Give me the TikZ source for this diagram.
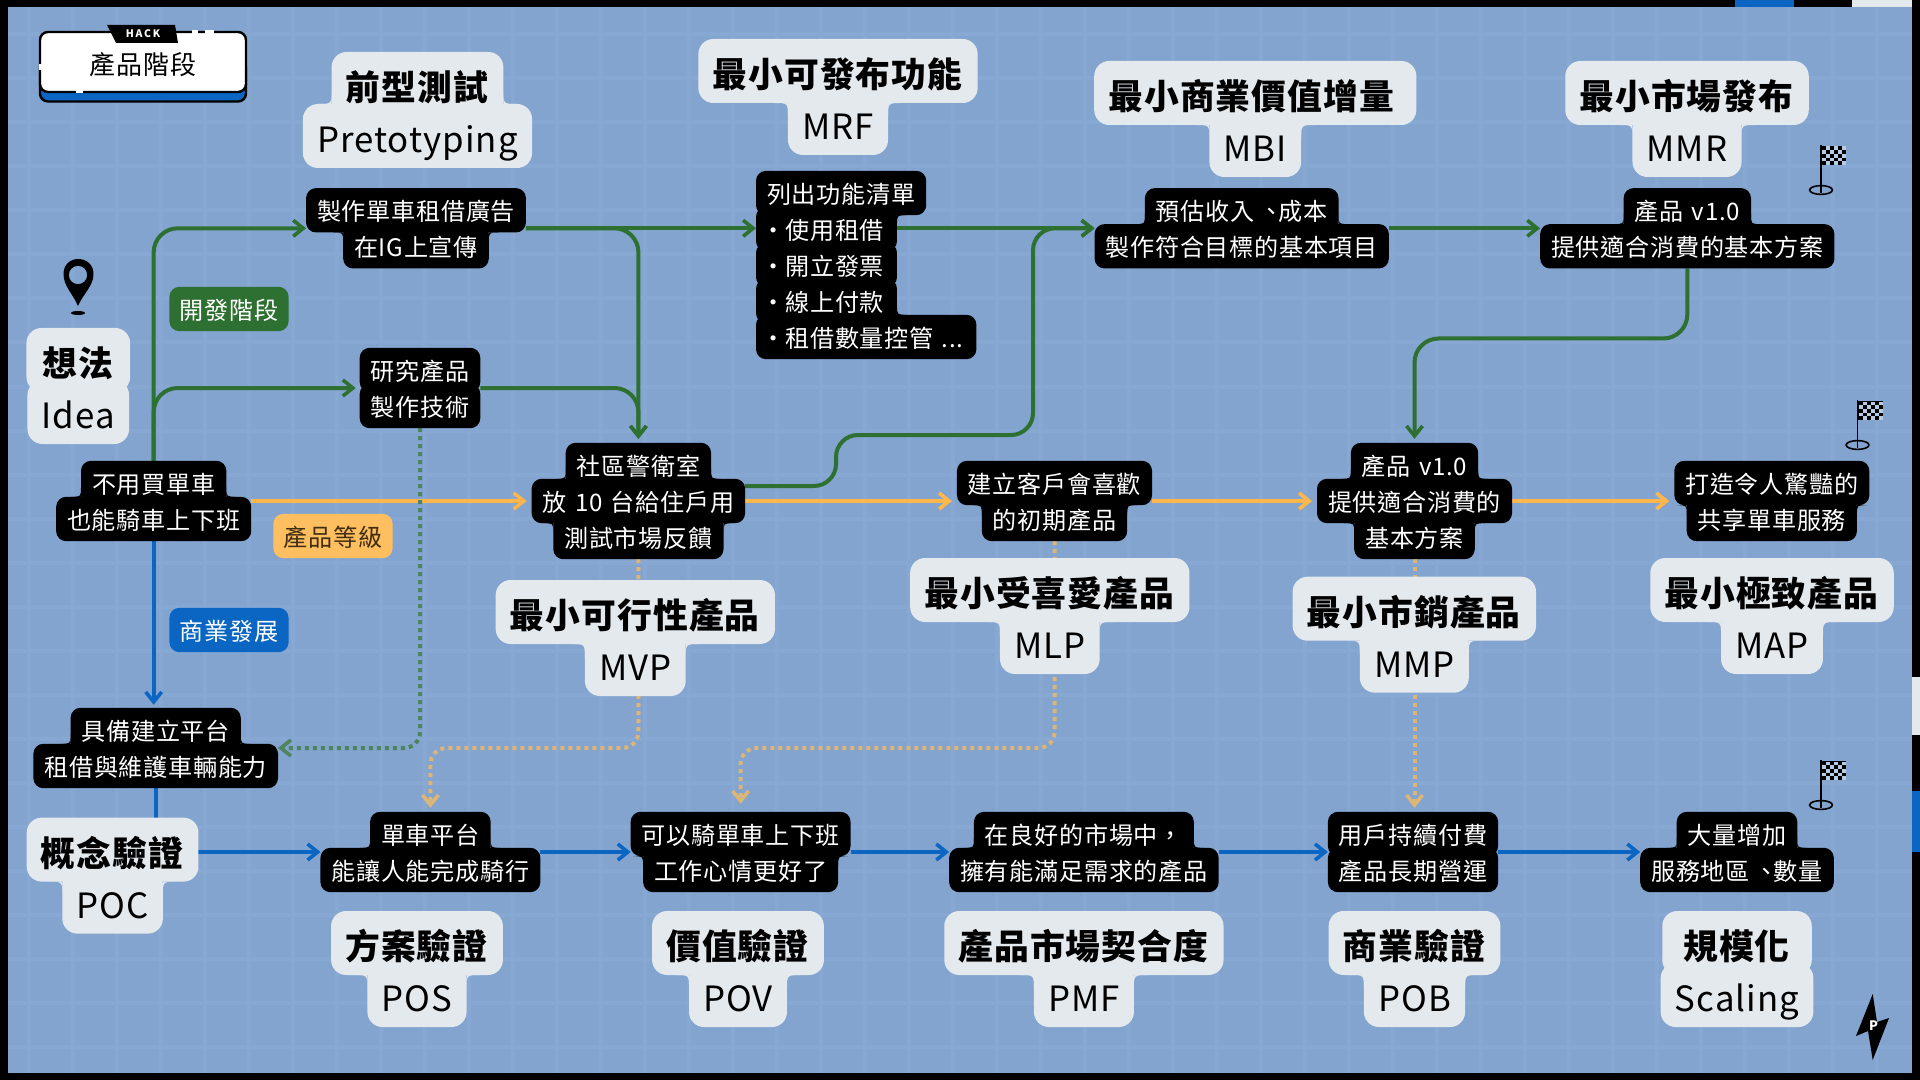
\documentclass[tikz,border=0pt]{standalone}
\usepackage{fontspec}
\setmainfont[LetterSpace=3,WordSpace=1.35]{Noto Sans CJK TC}
\usetikzlibrary{arrows.meta,fit}
\pgfdeclarelayer{paper}
\pgfdeclarelayer{wires}
\pgfsetlayers{paper,wires,main}

\definecolor{paperblue}{HTML}{82A4CE}
\definecolor{gridblue}{HTML}{87A8D2}
\definecolor{taggrey}{HTML}{E4E9EE}
\definecolor{devgreen}{HTML}{2E7031}
\definecolor{bizblue}{HTML}{0A66C2}
\definecolor{gradeorange}{HTML}{FFB74D}
\definecolor{dotgreen}{HTML}{4F8462}
\definecolor{dotorange}{HTML}{DDB675}

\tikzset{
  x=0.5pt, y=-0.5pt,
  stepline/.style={fill=black, text=white, rounded corners=5pt, minimum height=22.2pt,
    inner xsep=5.5pt, inner ysep=0pt, outer sep=0pt, text height=11.25pt, text depth=0.75pt,
    font=\fontsize{12.05}{18}\selectfont},
  listline/.style={stepline, anchor=west},
  tagline/.style={fill=taggrey, text=black, rounded corners=7.5pt, minimum height=32pt,
    inner xsep=7.1pt, inner ysep=0pt, outer sep=0pt, text height=16.75pt, text depth=0.25pt,
    font=\fontsize{17.4}{26}\selectfont},
  badge/.style={stepline, minimum width=59.6pt, inner xsep=0pt},
  flow/.style={line width=2pt, rounded corners=12pt,
    -{Straight Barb[length=5pt,width=8pt,line width=1.8pt]}, shorten >=0pt},
  devflow/.style={flow, draw=devgreen},
  gradeflow/.style={flow, draw=gradeorange, shorten >=2.5pt},
  bizflow/.style={flow, draw=bizblue},
  dotflow/.style={flow, rounded corners=8pt, dash pattern=on 2pt off 2pt},
  goalflag/.pic={
    \draw[black, line width=0.8pt] (0,0) -- (0,48);
    \draw[black, line width=0.8pt] (0,45) ellipse [x radius=5.7pt, y radius=2.2pt];
    \fill[black] (0,1) rectangle (25,20);
    \foreach \cx in {0,...,5}{
      \foreach \cy in {0,...,4}{
        \pgfmathparse{int(mod(\cx+\cy,2))}
        \ifnum\pgfmathresult=1
          \fill[gridblue!60!white] ({1+\cx*4},{1.5+\cy*3.7}) rectangle ++(4,3.7);
        \fi
      }
    }
  },
}

\newdimen\upL \newdimen\upR \newdimen\upB
\newdimen\lowL \newdimen\lowR \newdimen\lowT
\newdimen\stepgap

\newcommand{\notch}[6]{%
  \pgfmathsetlengthmacro{\nr}{min(#5,#6)}%
  \fill ({#1+#3*\nr},#2) .. controls (#1,#2) .. (#1,{#2+#4*\nr}) -- (#1,#2) -- cycle;%
}

\newcommand{\stack}[8]{%
  \foreach \linetxt [count=\i] in {#8}{\xdef\nlines{\i}}
  \gdef\fitlist{}
  \foreach \linetxt [count=\i] in {#8}{
    \node[#2] (#1-\i) at (#6,{#7+(\i-(\nlines+1)/2)*#4}) {\linetxt};
    \xdef\fitlist{\fitlist(#1-\i)}
  }
  \begin{scope}[fill=#3]
    \foreach \linetxt [count=\i] in {#8}{
      \ifnum\i>1
        \pgfmathtruncatemacro{\prevline}{\i-1}
        \pgfextractx{\upL}{\pgfpointanchor{#1-\prevline}{south west}}
        \pgfextractx{\upR}{\pgfpointanchor{#1-\prevline}{south east}}
        \pgfextracty{\upB}{\pgfpointanchor{#1-\prevline}{south west}}
        \pgfextractx{\lowL}{\pgfpointanchor{#1-\i}{north west}}
        \pgfextractx{\lowR}{\pgfpointanchor{#1-\i}{north east}}
        \pgfextracty{\lowT}{\pgfpointanchor{#1-\i}{north west}}
        \stepgap=\dimexpr\upL-\lowL\relax
        \ifdim\stepgap>1.5pt \notch{\the\upL}{\the\lowT}{-1}{1}{\the\stepgap}{#5}\fi
        \ifdim\stepgap<-1.5pt \stepgap=-\stepgap \notch{\the\lowL}{\the\upB}{-1}{-1}{\the\stepgap}{#5}\fi
        \stepgap=\dimexpr\lowR-\upR\relax
        \ifdim\stepgap>1.5pt \notch{\the\upR}{\the\lowT}{1}{1}{\the\stepgap}{#5}\fi
        \ifdim\stepgap<-1.5pt \stepgap=-\stepgap \notch{\the\lowR}{\the\upB}{1}{-1}{\the\stepgap}{#5}\fi
      \fi
    }
  \end{scope}
  \edef\stackfit{\noexpand\node[fit=\fitlist, inner sep=0pt, outer sep=0pt] (#1) {};}
  \stackfit
}
\newcommand{\stepbox}[4]{\stack{#1}{stepline}{black}{36}{5pt}{#2}{#3}{#4}}
\newcommand{\listbox}[4]{\stack{#1}{listline}{black}{36}{5pt}{#2}{#3}{#4}}
\newcommand{\stagetag}[4]{\stack{#1}{tagline}{taggrey}{52}{7pt}{#2}{#3}{#4}}
\newcommand{\dotitem}[1]{\makebox[9.2pt][l]{\kern-3pt·}#1\kern1pt}
\newcommand{\pause}{\kern.2em、\kern-.2em}

\begin{document}
\begin{tikzpicture}
  \useasboundingbox (0,0) rectangle (1920,1080);

  \begin{pgfonlayer}{paper}
    \fill[black] (0,0) rectangle (1920,1080);
    \fill[paperblue] (7.5,7.5) rectangle (1912,1073);
    \foreach \gx in {29,73,...,1912}
      \draw[gridblue, line width=2pt] (\gx,7.5) -- (\gx,1073);
    \foreach \gy in {34.5,78.5,...,1073}
      \draw[gridblue, line width=2pt] (7.5,\gy) -- (1912,\gy);
    \fill[bizblue] (1735,0) rectangle (1794,7.5);
    \fill[taggrey] (1852,0) rectangle (1912,7.5);
    \fill[taggrey] (1912,677) rectangle (1920,735);
    \fill[bizblue] (1912,791) rectangle (1920,852);
  \end{pgfonlayer}

  \draw[black, line width=1.2pt, fill=bizblue, rounded corners=4pt] (40,60) rectangle (246,101.5);
  \draw[black, line width=1.2pt, fill=white, rounded corners=4pt] (40,32) rectangle (246,92);
  \fill[white] (192,30) rectangle (198,34);
  \fill[white] (205,30) rectangle (214,34);
  \fill[white] (38.5,64) rectangle (41.5,70);
  \fill[white] (75.5,90) rectangle (83,93.5);
  \fill[black] (107,25) -- (175,25) -- (178,43) -- (116,43) -- cycle;
  \node[text=white, inner sep=0pt, font=\bfseries\fontsize{5.2}{6}\selectfont] (hack) at (143,34) {H\,A\,C\,K};
  \node[text=black, inner sep=0pt, font=\fontsize{13}{16}\selectfont] (title) at (143,65) {產品階段};

  \fill[black, even odd rule] (78,306) .. controls (73,294) and (63.5,286) .. (63.5,274)
    .. controls (63.5,265) and (70,259) .. (78,259)
    .. controls (87,259) and (93.5,265) .. (93.5,274)
    .. controls (93.5,286) and (83,294) .. (78,306) -- cycle
    (78,275) circle (4.6pt);
  \fill[black] (78,313) ellipse [x radius=3.5pt, y radius=1pt];

  \pic at (1821,145) {goalflag};
  \pic at (1857.5,400) {goalflag};
  \pic at (1821,760) {goalflag};

  \fill[black] (1872.7,994) -- (1856,1036) -- (1868,1031) -- (1872.7,1060) -- (1889,1018) -- (1877,1022) -- cycle;
  \node[text=white, inner sep=0pt, font=\bfseries\fontsize{6.5}{7}\selectfont] (bolt) at (1873.5,1026) {P};

  \stagetag{idea}{78.3}{386}{\kern.9pt\textbf{想法}\kern.9pt,Idea}
  \stagetag{proto}{417.5}{110}{\textbf{前型測試},Pretotyping}
  \stagetag{mrf}{838}{97}{\textbf{最小可發布功能},MRF}
  \stagetag{mbi}{1255.3}{119}{\textbf{最小商業價值增量}\kern3.5pt,MBI}
  \stagetag{mmr}{1687}{119}{\textbf{最小市場發布},MMR}
  \stagetag{mvp}{635.3}{638}{\textbf{最小可行性產品},MVP}
  \stagetag{mlp}{1049.8}{616}{\textbf{最小受喜愛產品},MLP}
  \stagetag{mmp}{1414.3}{634.7}{\textbf{最小市銷產品},MMP}
  \stagetag{map}{1772}{616}{\textbf{最小極致產品},MAP}
  \stagetag{poc}{112.6}{875.6}{\textbf{概念驗證},POC}
  \stagetag{pos}{417}{969}{\textbf{方案驗證},POS}
  \stagetag{pov}{738}{969}{\textbf{價值驗證},POV}
  \stagetag{pmf}{1083.9}{969}{\textbf{產品市場契合度},PMF}
  \stagetag{pob}{1414.5}{969}{\textbf{商業驗證},POB}
  \stagetag{scaling}{1737}{969}{\kern3.4pt\textbf{規模化}\kern3.4pt,Scaling}

  \stepbox{start}{153.7}{501}{不用買單車,也能騎車上下班}
  \stepbox{adv}{416}{228.3}{製作單車租借廣告,在IG上宣傳}
  \stepbox{tech}{420}{388}{研究產品,製作技術}
  \listbox{features}{756}{265}{列出功能清單,\dotitem{使用租借},\dotitem{開立發票},\dotitem{線上付款},\dotitem{租借數量控管 ...}}
  \stepbox{estimate}{1241.7}{228.3}{預估收入\pause 成本,製作符合目標的基本項目}
  \stepbox{releasea}{1687.3}{228.3}{產品 v1.0,提供適合消費的基本方案}
  \stepbox{pilot}{638.4}{501}{社區警衛室,放 10 台給住戶用,測試市場反饋}
  \stepbox{liked}{1054.5}{501}{建立客戶會喜歡,的初期產品}
  \stepbox{releaseb}{1414.5}{501}{產品 v1.0,提供適合消費的,基本方案}
  \stepbox{wow}{1771.8}{501}{打造令人驚豔的,共享單車服務}
  \stepbox{platform}{155.7}{748}{具備建立平台,租借與維護車輛能力}
  \stepbox{solution}{430.4}{852}{單車平台,能讓人能完成騎行}
  \stepbox{value}{740.6}{852}{可以騎單車上下班,工作心情更好了}
  \stepbox{market}{1083.9}{852}{在良好的市場中\char"FF0C,擁有能滿足需求的產品}
  \stepbox{business}{1413}{852}{用戶持續付費,產品長期營運}
  \stepbox{scale}{1737}{852}{大量增加,服務地區\pause 數量}

  \node[badge, fill=devgreen] (devtag) at (229,309) {開發階段};
  \node[badge, fill=gradeorange!90!white, text=black!75!gradeorange] (gradetag) at (333,536) {產品等級};
  \node[badge, fill=bizblue] (biztag) at (229,630) {商業發展};

  \coordinate (pilotout) at (836,486);
  \coordinate (pilotup) at (1033,435);
  \coordinate (releasemid) at (1550,338.5);
  \coordinate (pilotdot) at (530,748);
  \coordinate (likeddot) at (900,748);

  \begin{pgfonlayer}{wires}
    \draw[devflow] (start.north) |- (adv.west);
    \draw[devflow, shorten >=2pt] (start.north) |- (tech.west);
    \draw[devflow] (adv.east) -- (features.west |- adv.east);
    \draw[devflow, shorten >=2pt] (adv.east) -| (pilot.north);
    \draw[devflow, shorten >=2pt] (tech.east) -| (pilot.north);
    \draw[devflow] (estimate.west -| features-2.east) -- (estimate.west);
    \draw[devflow, rounded corners=11pt] (pilotout -| pilot.east) -- (pilotout) -- (pilotout |- pilotup) -- (pilotup) -- (pilotup |- estimate.west) -- (estimate.west);
    \draw[devflow] (estimate.east) -- (releasea.west);
    \draw[devflow, shorten >=2pt] (releasea.south) |- (releasemid) -| (releaseb.north);

    \draw[gradeflow] (start.east) -- (pilot.west);
    \draw[gradeflow] (pilot.east) -- (liked.west);
    \draw[gradeflow] (liked.east) -- (releaseb.west);
    \draw[gradeflow] (releaseb.east) -- (wow.west);

    \draw[bizflow, shorten >=1.5pt] (start.south) -- (platform.north -| start.south);
    \draw[bizblue, line width=2pt] (platform.south) -- (platform.south |- poc-1.north);
    \draw[bizflow] (solution.west -| poc-1.east) -- (solution.west);
    \draw[bizflow] (solution.east) -- (value.west);
    \draw[bizflow] (value.east) -- (market.west);
    \draw[bizflow] (market.east) -- (business.west);
    \draw[bizflow] (business.east) -- (scale.west);

    \draw[dotflow, draw=dotgreen] (tech.south) |- (platform.east);
    \draw[dotflow, draw=dotorange, shorten >=2pt] (pilot.south) |- (pilotdot) -| (solution.north);
    \draw[dotflow, draw=dotorange, shorten >=4pt] (liked.south) |- (likeddot) -| (value.north);
    \draw[dotflow, draw=dotorange, shorten >=2pt] (releaseb.south) -- (releaseb.south |- business.north);
  \end{pgfonlayer}
\end{tikzpicture}
\end{document}
